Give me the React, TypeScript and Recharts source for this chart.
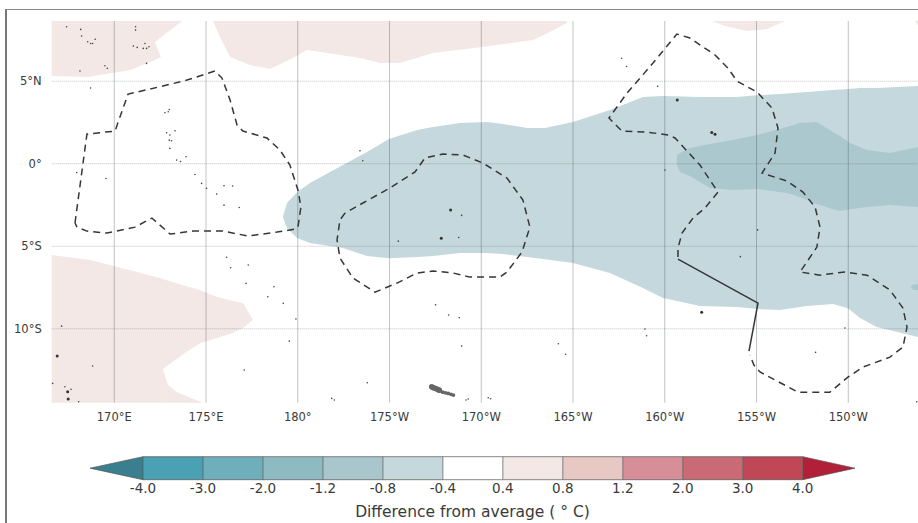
import { Area, ComposedChart, Line, ReferenceLine, Scatter, XAxis, YAxis } from "recharts";

const FONT = "'DejaVu Sans', sans-serif";
const TEXT = "#3a3a3a";

// map extent, degrees east of Greenwich (so 190 is 170W)
const LON_MIN = 166.59;
const LON_MAX = 213.8;
const LAT_MIN = -14.48;
const LAT_MAX = 8.65;

const lonTicks = [170, 175, 180, 185, 190, 195, 200, 205, 210];
const latTicks = [-10, -5, 0, 5];

// filled contours: [lon, south edge, north edge]
const bandLight: number[][] = [
  [179.19, -3.23, -3.23], [179.41, -3.9, -2.38], [179.96, -4.5, -1.72], [180.66, -4.81, -1.17],
  [182.46, -5.11, -0.08], [183.77, -5.59, 0.71], [184.97, -5.72, 1.5], [186.5, -5.65, 2.04],
  [187.37, -5.59, 2.22], [188.84, -5.41, 2.47], [190.31, -5.41, 2.53], [191.18, -5.47, 2.41],
  [192.49, -5.65, 2.16], [193.47, -5.78, 2.16], [195.0, -6.02, 2.53], [197.01, -6.62, 3.25],
  [198.81, -7.53, 4.04], [199.9, -8.14, 4.1], [201.92, -8.62, 4.04], [203.93, -8.68, 4.04],
  [205.19, -8.81, 4.16], [206.28, -8.87, 4.22], [207.75, -8.62, 4.35], [209.17, -8.5, 4.47],
  [209.98, -8.75, 4.53], [210.64, -9.35, 4.59], [211.56, -9.9, 4.59], [213.8, -10.5, 4.71],
];
const bandDark: number[][] = [
  [200.66, -0.08, 0.53], [200.83, -0.5, 0.65], [201.37, -0.75, 0.95], [202.46, -1.47, 1.19],
  [203.72, -1.59, 1.44], [205.02, -1.53, 1.74], [206.66, -1.78, 2.22], [207.37, -2.02, 2.47],
  [208.29, -2.44, 2.53], [209.17, -2.75, 1.92], [209.55, -2.87, 1.68], [210.09, -2.75, 1.25],
  [211.02, -2.62, 0.83], [212.27, -2.5, 0.65], [213.8, -2.62, 1.01],
];
const bandSpeck: number[][] = [[213.4, -7.47, -7.47], [213.55, -7.65, -7.3], [213.8, -7.65, -7.3]];

const warmNorthWest: number[][] = [
  [166.59, 5.32, 8.65], [168.57, 5.25, 8.65], [170.86, 5.68, 8.65], [172.22, 6.28, 8.65],
  [172.22, 7.38, 8.65], [173.69, 8.65, 8.65],
];
const warmNorthWestNotch: number[][] = [[172.22, 6.28, 7.38], [172.54, 6.47, 6.47]];
const warmNorthMiddle: number[][] = [
  [175.38, 8.65, 8.65], [175.76, 7.68, 8.65], [176.31, 6.47, 8.65], [177.4, 5.98, 8.65],
  [178.49, 5.74, 8.65], [179.74, 6.41, 8.65], [180.5, 6.89, 8.65], [183.39, 6.41, 8.65],
  [184.48, 6.1, 8.65], [185.57, 6.1, 8.65], [187.37, 6.71, 8.65], [190.04, 7.07, 8.65],
  [192.82, 7.5, 8.65], [193.63, 7.92, 8.65], [194.67, 8.53, 8.65],
];
const warmNorthEast: number[][] = [
  [202.57, 8.65, 8.65], [203.28, 8.35, 8.65], [204.48, 8.04, 8.65], [205.57, 8.16, 8.65], [206.55, 8.65, 8.65],
];
const warmCorner: number[][] = [[213.63, 8.65, 8.65], [213.8, 8.4, 8.65]];
const warmSouthWest: number[][] = [
  [166.59, -14.48, -5.53], [168.68, -14.48, -5.84], [169.98, -14.48, -6.2], [172.49, -14.48, -6.93],
  [172.65, -14.48, -6.98], [172.65, -12.44, -6.98], [173.69, -11.59, -7.35], [174.67, -10.87, -7.65],
  [175.6, -10.56, -8.08], [176.47, -10.26, -8.32], [177.01, -9.96, -8.44], [177.56, -9.47, -9.47],
];
const warmSouthWestNotch: number[][] = [
  [172.65, -14.48, -12.44], [172.93, -14.48, -13.41], [173.42, -14.48, -13.84], [174.83, -14.48, -14.48],
];

// outlined areas: [lon, lat]
const outlineWest: number[][] = [
  [167.86, -3.59], [168.51, 1.8], [170.04, 1.98], [170.75, 4.22], [172.65, 4.71], [173.96, 5.07],
  [175.49, 5.62], [175.87, 5.19], [176.31, 3.86], [176.69, 2.35], [177.01, 1.98], [178.32, 1.56],
  [179.03, 0.83], [179.57, -0.08], [180.01, -1.59], [180.17, -2.62], [180.01, -3.84], [179.85, -3.96],
  [178.87, -4.14], [177.29, -4.38], [175.92, -4.08], [174.29, -4.08], [173.04, -4.26], [172.05, -3.29],
  [171.13, -3.84], [169.6, -4.2], [168.51, -4.08], [167.97, -3.84], [167.86, -3.59],
];
const outlineMiddle: number[][] = [
  [182.57, -2.99], [182.3, -3.41], [182.14, -4.62], [182.3, -5.72], [183.01, -6.93], [184.21, -7.78],
  [185.41, -7.23], [186.5, -6.62], [187.37, -6.5], [188.46, -6.62], [189.38, -6.87], [191.02, -6.87],
  [191.4, -6.56], [192.22, -5.35], [192.65, -3.84], [192.27, -2.2], [191.4, -0.87], [190.09, 0.04],
  [189.0, 0.53], [187.91, 0.59], [186.93, 0.35], [186.39, -0.5], [185.02, -1.47], [183.55, -2.38],
  [182.57, -2.99],
];
const outlineEast: number[][] = [
  [200.72, -5.65], [200.72, -5.11], [200.94, -4.2], [201.54, -3.29], [202.19, -2.68], [202.9, -1.72],
  [201.92, -0.08], [200.56, 1.56], [200.17, 1.74], [199.03, 1.92], [197.67, 1.98], [196.96, 2.77],
  [197.94, 4.28], [199.36, 6.1], [200.66, 7.86], [201.37, 7.62], [202.74, 6.59], [203.44, 5.8],
  [203.93, 5.01], [205.02, 4.35], [205.84, 3.38], [206.17, 2.16], [206.01, 0.65], [205.3, -0.56],
  [206.66, -1.05], [207.53, -1.72], [208.19, -2.62], [208.46, -3.84], [208.29, -5.05], [207.37, -6.56],
  [208.46, -6.75], [209.82, -6.56], [211.02, -6.75], [212.27, -7.65], [212.98, -8.75], [213.2, -9.9],
  [212.98, -11.11], [212.27, -11.72], [210.8, -12.32], [209.98, -12.93], [209.0, -13.84], [207.26, -13.84],
  [205.19, -12.62], [204.86, -12.2], [204.64, -11.59],
];
const outlineSolid: number[][] = [[200.72, -5.78], [205.08, -8.44], [204.59, -11.35]];

// islands
const islandsTiny: number[][] = [
  [167.4, 8.3], [168.17, 8.14], [168.22, 7.74], [168.55, 7.39], [168.71, 7.29], [168.82, 7.29], [168.96, 7.54],
  [171.16, 8.3], [171.16, 8.1], [171.04, 7.13], [171.25, 7.05], [171.58, 6.99], [171.76, 6.99], [171.89, 7.09],
  [171.67, 7.29], [171.76, 6.08], [168.13, 5.62], [169.49, 5.94], [169.62, 5.78], [168.71, 4.59], [172.76, 3.09],
  [172.94, 3.15], [173.0, 3.29], [173.31, 2.0], [172.85, 1.88], [173.03, 1.74], [173.0, 1.43], [173.12, 1.39],
  [173.03, 0.93], [173.4, 0.22], [173.61, 0.14], [173.91, 0.42], [174.4, -0.65], [174.76, -1.19], [175.03, -1.49],
  [175.58, -1.84], [175.98, -1.33], [176.45, -1.35], [175.98, -2.51], [176.81, -2.65], [167.95, -0.53], [169.55, -0.89],
  [176.12, -5.67], [176.34, -6.3], [177.3, -6.14], [177.18, -7.25], [178.7, -7.45], [178.37, -8.06], [179.21, -8.46],
  [179.9, -9.41], [179.54, -10.75], [177.08, -12.5], [167.13, -9.84], [168.82, -12.26], [166.64, -13.31], [167.31, -13.51],
  [167.64, -13.67], [168.06, -14.42], [183.39, 0.79], [183.54, 0.18], [188.93, -3.13], [185.48, -4.69], [188.77, -4.47],
  [187.51, -8.55], [188.22, -9.17], [188.8, -9.33], [188.93, -11.05], [194.2, -10.91], [194.6, -11.54], [183.79, -13.27],
  [181.85, -14.22], [181.99, -14.32], [189.29, -14.26], [189.17, -14.32], [190.38, -14.18], [190.51, -14.24],
  [197.65, 6.39], [197.92, 5.89], [199.61, 4.69], [200.01, -0.38], [205.06, -4.01], [204.12, -5.63], [198.92, -10.01],
  [199.01, -10.42], [209.82, -9.95], [208.22, -11.43], [213.73, -14.42],
];
const islandsSmall: number[][] = [
  [166.89, -11.65], [167.46, -13.82], [167.49, -14.26], [188.33, -2.81], [187.82, -4.51], [200.68, 3.87],
  [202.56, 1.9], [202.74, 1.78], [202.01, -9.0],
];
const samoaLarge: number[][] = [
  [187.3, -13.52], [187.4, -13.57], [187.51, -13.62], [187.61, -13.67], [187.71, -13.72],
];
const samoaSmall: number[][] = [
  [187.9, -13.84], [188.05, -13.88], [188.2, -13.92], [188.35, -13.97], [188.48, -14.02],
];

// colour scale
const levelLabels = ["-4.0", "-3.0", "-2.0", "-1.2", "-0.8", "-0.4", "0.4", "0.8", "1.2", "2.0", "3.0", "4.0"];
const levelColours = [
  "#4aa1b3", "#6fafbc", "#8ebbc2", "#a9c6cc", "#c5d8dc", "#ffffff",
  "#f4e8e6", "#e8c8c3", "#d68f98", "#c96a75", "#bf4756",
];
const COLOUR_LOW = "#3a7f8f";
const COLOUR_HIGH = "#b21f38";
const TIP_LOW = -0.884;
const TIP_HIGH = 11.872;

const COOL_LIGHT = "#c5d8dd";
const COOL_DARK = "#abc8cf";
const WARM = "#f4e8e6";

const bandRows = (rows: number[][]) => rows.map(([lon, s, n]) => ({ lon, band: [s, n] }));
const pointRows = (rows: number[][]) => rows.map(([lon, lat]) => ({ lon, lat }));

const dot = (r: number, fill: string) => (props: any) => (
  <circle cx={props.cx} cy={props.cy} r={r} fill={fill} />
);

const fmtLon = (v: number) => (v === 180 ? "180°" : v < 180 ? `${v}°E` : `${360 - v}°W`);
const fmtLat = (v: number) => (v === 0 ? "0°" : v > 0 ? `${v}°N` : `${-v}°S`);

function fillBand(key: string, rows: number[][], fill: string) {
  return (
    <Area
      key={key}
      data={bandRows(rows)}
      dataKey="band"
      type="linear"
      fill={fill}
      fillOpacity={1}
      stroke="none"
      dot={false}
      activeDot={false}
      isAnimationActive={false}
    />
  );
}

function outline(key: string, rows: number[][], dash?: string) {
  return (
    <Line
      key={key}
      data={pointRows(rows)}
      dataKey="lat"
      type="linear"
      stroke="#363636"
      strokeWidth={1.5}
      strokeDasharray={dash}
      dot={false}
      activeDot={false}
      isAnimationActive={false}
    />
  );
}

function MapPanel() {
  return (
    <ComposedChart width={918} height={523} margin={{ top: 21, right: 0, bottom: 0, left: 0 }}>
      <XAxis
        dataKey="lon"
        type="number"
        domain={[LON_MIN, LON_MAX]}
        ticks={lonTicks}
        tickFormatter={fmtLon}
        height={120.3}
        axisLine={false}
        tickLine={false}
        tickMargin={4}
        tick={{ fontSize: 11.5, fontFamily: FONT, fill: TEXT }}
      />
      <YAxis
        dataKey="lat"
        type="number"
        domain={[LAT_MIN, LAT_MAX]}
        ticks={latTicks}
        tickFormatter={fmtLat}
        width={51.7}
        axisLine={false}
        tickLine={false}
        tickMargin={4}
        tick={{ fontSize: 11.5, fontFamily: FONT, fill: TEXT }}
      />
      {fillBand("warmNW", warmNorthWest, WARM)}
      {fillBand("warmNWn", warmNorthWestNotch, WARM)}
      {fillBand("warmNM", warmNorthMiddle, WARM)}
      {fillBand("warmNE", warmNorthEast, WARM)}
      {fillBand("warmC", warmCorner, WARM)}
      {fillBand("warmSW", warmSouthWest, WARM)}
      {fillBand("warmSWn", warmSouthWestNotch, WARM)}
      {fillBand("coolL", bandLight, COOL_LIGHT)}
      {fillBand("coolS", bandSpeck, COOL_DARK)}
      {fillBand("coolD", bandDark, COOL_DARK)}
      {lonTicks.map((v) => (
        <ReferenceLine key={`lon${v}`} x={v} stroke="rgba(60,70,75,0.36)" strokeWidth={0.9} />
      ))}
      {latTicks.map((v) => (
        <ReferenceLine key={`lat${v}`} y={v} stroke="rgba(60,70,75,0.32)" strokeWidth={1} strokeDasharray="1 1" />
      ))}
      <Scatter data={pointRows(islandsTiny)} dataKey="lat" shape={dot(0.8, "#444")} isAnimationActive={false} />
      <Scatter data={pointRows(islandsSmall)} dataKey="lat" shape={dot(1.5, "#333")} isAnimationActive={false} />
      <Scatter data={pointRows(samoaLarge)} dataKey="lat" shape={dot(2.8, "#666")} isAnimationActive={false} />
      <Scatter data={pointRows(samoaSmall)} dataKey="lat" shape={dot(1.9, "#666")} isAnimationActive={false} />
      {outline("west", outlineWest, "7 5")}
      {outline("middle", outlineMiddle, "7 5")}
      {outline("east", outlineEast, "7 5")}
      {outline("solid", outlineSolid)}
    </ComposedChart>
  );
}

const FULL = [0, 1];
const segment = (a: number, b: number) => [{ pos: a, band: FULL }, { pos: b, band: FULL }];

function colourArea(key: string, data: object[], fill: string) {
  return (
    <Area
      key={key}
      data={data}
      dataKey="band"
      type="linear"
      fill={fill}
      fillOpacity={1}
      stroke="#555"
      strokeOpacity={0.7}
      strokeWidth={1}
      dot={false}
      activeDot={false}
      isAnimationActive={false}
    />
  );
}

function ColourBar() {
  const ticks = levelLabels.map((_, i) => i);
  return (
    <ComposedChart width={918} height={83} margin={{ top: 16.7, right: 63, bottom: 0, left: 90 }}>
      <XAxis
        dataKey="pos"
        type="number"
        domain={[TIP_LOW, TIP_HIGH]}
        ticks={ticks}
        tickFormatter={(i: number) => levelLabels[i]}
        height={43.3}
        axisLine={false}
        tickLine={false}
        tickMargin={-2}
        interval={0}
        tick={{ fontSize: 13.5, fontFamily: FONT, fill: TEXT }}
        label={{
          value: "Difference from average ( ° C)",
          position: "insideBottom",
          offset: 6,
          style: { fontSize: 15.5, fontFamily: FONT, fill: TEXT },
        }}
      />
      <YAxis type="number" domain={[0, 1]} hide />
      {colourArea("low", [{ pos: TIP_LOW, band: [0.5, 0.5] }, { pos: 0, band: FULL }], COLOUR_LOW)}
      {levelColours.map((c, i) => colourArea(`seg${i}`, segment(i, i + 1), c))}
      {colourArea("high", [{ pos: 11, band: FULL }, { pos: TIP_HIGH, band: [0.5, 0.5] }], COLOUR_HIGH)}
      {ticks.map((i) => (
        <ReferenceLine key={i} x={i} stroke="#555" strokeOpacity={0.7} />
      ))}
    </ComposedChart>
  );
}

export default function App() {
  return (
    <div style={{ position: "absolute", left: 0, top: 0, width: 918, height: 523, overflow: "hidden", background: "#fff" }}>
      <div
        style={{
          position: "absolute",
          left: 5,
          top: 9,
          width: 920,
          height: 520,
          borderLeft: "2px solid #777",
          borderTop: "1.5px solid #888",
        }}
      />
      <div style={{ position: "absolute", left: 0, top: 0 }}>
        <MapPanel />
      </div>
      <div style={{ position: "absolute", left: 0, top: 440 }}>
        <ColourBar />
      </div>
    </div>
  );
}
